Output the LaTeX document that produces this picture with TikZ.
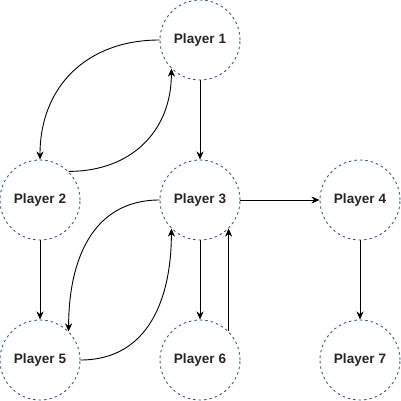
\documentclass[tikz,border=0pt]{standalone}
\usepackage{fontspec}
\setmainfont{Liberation Sans}
\usetikzlibrary{arrows.meta}
\definecolor{ringblue}{HTML}{2F5F91}
\begin{document}
\begin{tikzpicture}[x=1pt,y=1pt,
  player/.style={circle, draw=ringblue, line width=0.9pt, dash pattern=on 2.5pt off 3pt,
    minimum size=80pt, inner sep=0pt, font=\fontsize{13.6}{15}\selectfont\bfseries, text=black!85},
  conn/.style={draw=black, line width=0.9pt, -{Stealth[length=8pt,width=7pt,inset=2.5pt]}}]
\useasboundingbox (0,0) rectangle (401,-401);
\node[player] (p1) at (200,-40) {Player 1};
\node[player] (p2) at (40,-200) {Player 2};
\node[player] (p3) at (200,-200) {Player 3};
\node[player] (p4) at (360,-200) {Player 4};
\node[player] (p5) at (40,-360) {Player 5};
\node[player] (p6) at (200,-360) {Player 6};
\node[player] (p7) at (360,-360) {Player 7};
\draw[conn] (p1.south) -- (p3.north);
\draw[conn] (p1.west) to[out=180,in=90,looseness=1.1] (p2.north);
\draw[conn] (p2.45) to[out=0,in=270,looseness=1.1] (p1.225);
\draw[conn] (p2.south) -- (p5.north);
\draw[conn] (p3.west) to[out=180,in=90,looseness=1.1] (p5.45);
\draw[conn] (p5.east) to[out=0,in=270,looseness=1.1] (p3.225);
\draw[conn] (p3.south) -- (p6.north);
\draw[conn] (p6.45) -- (p3.315);
\draw[conn] (p3.east) -- (p4.west);
\draw[conn] (p4.south) -- (p7.north);
\end{tikzpicture}
\end{document}
